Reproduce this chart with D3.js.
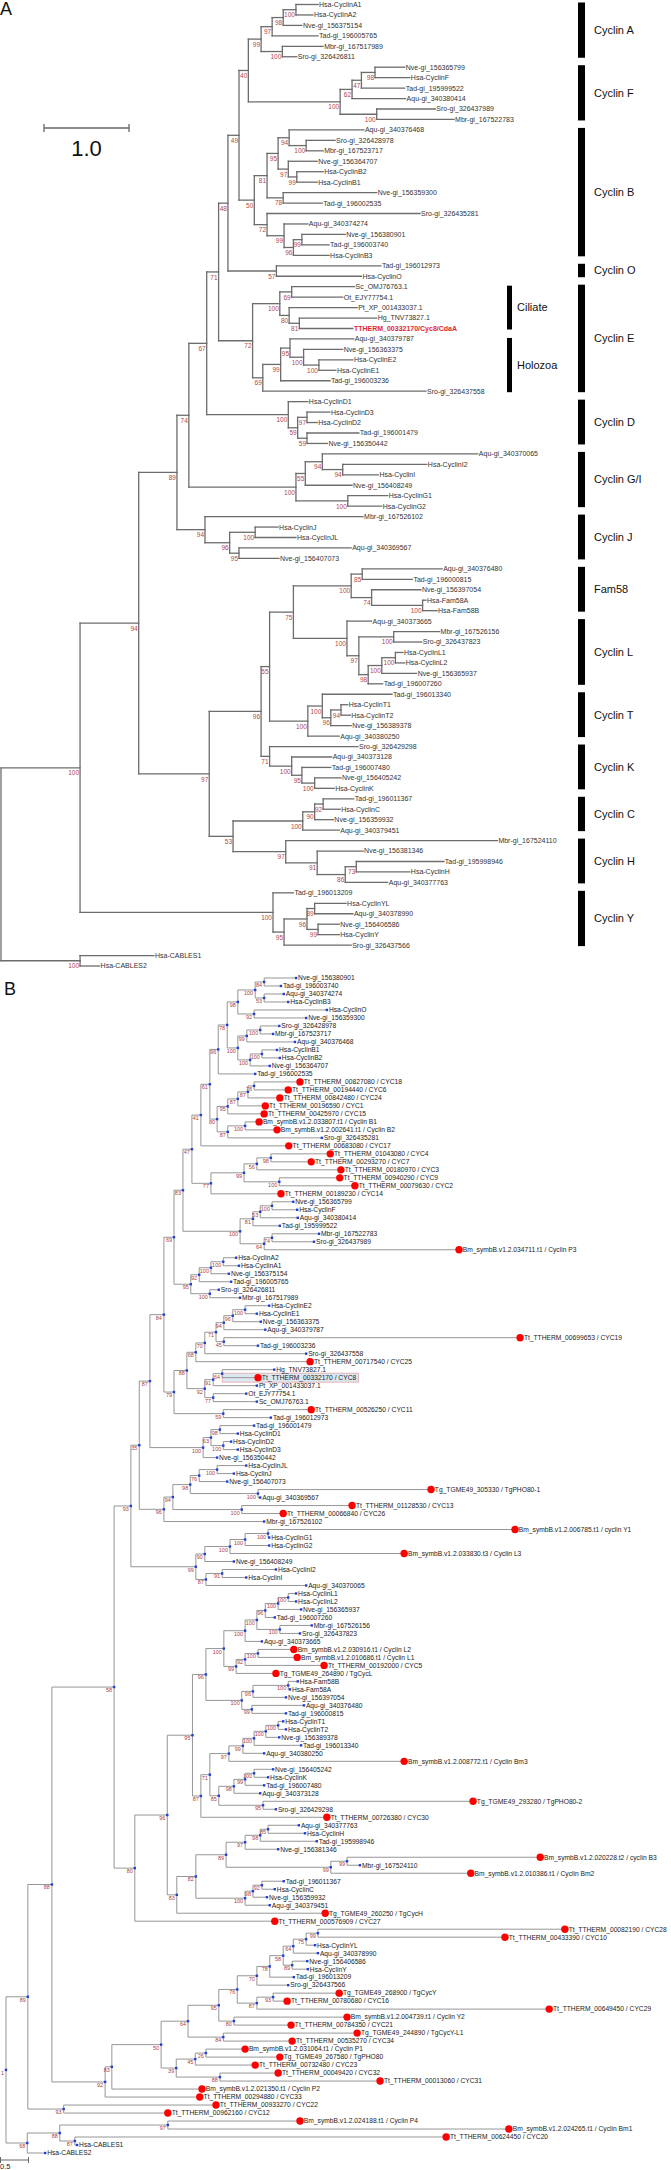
<!DOCTYPE html>
<html><head><meta charset="utf-8">
<script src="https://cdn.jsdelivr.net/npm/d3@7"></script>
<style>body{margin:0;background:#fff}svg{display:block}text{font-family:"Liberation Sans",Arial,sans-serif}</style>
</head><body><svg id="c" width="671" height="2170"></svg>
<script>
// ---------- DATA : panel A (Newick, value after ':' = distance from root, label after ')' = bootstrap) ----------
const aCyclinA = "((((Hsa-CyclinA1:3.73,Hsa-CyclinA2:3.67)100:3.47,Nve-gi_156375154:3.54)98:3.32,Tad-gi_196005765:3.73)97:3.19,(Mbr-gi_167517989:3.79,Sro-gi_326426811:3.48)100:3.31)99:3.06";
const aCyclinF = "((((Nve-gi_156365799:4.75,Hsa-CyclinF:4.81)98:4.40,Tad-gi_195999522:4.75)47:4.24,Aqu-gi_340380414:4.76)62:4.13,(Sro-gi_326437989:5.11,Mbr-gi_167522783:5.33)100:4.42)100:3.99";
const aCyclinB = "((((Aqu-gi_340376468:4.27,(Sro-gi_326428978:3.93,Mbr-gi_167523717:3.79)100:3.59)94:3.39,(Nve-gi_156364707:3.72,(Hsa-CyclinB2:3.79,Hsa-CyclinB1:3.72)99:3.48)97:3.38)95:3.26,(Nve-gi_156359300:4.42,Tad-gi_196002535:3.78)78:3.32)81:3.13,(Sro-gi_326435281:4.93,(Aqu-gi_340374274:3.61,((Nve-gi_156380901:4.05,Tad-gi_196003740:3.86)99:3.54,Hsa-CyclinB3:3.86)96:3.44)99:3.33)72:3.13)50:2.98";
const aCyclinO = "(Tad-gi_196012973:4.47,Hsa-CyclinO:4.24)57:3.24";
const aCiliate = "((Sc_OMJ76763.1:4.16,Ot_EJY77754.1:4.02)69:3.42,(Pt_XP_001433037.1:4.19,(Hg_TNV73827.1:4.42,TTHERM_00332170/Cyc8/CdaA:4.14)81:3.51)80:3.39)100:3.28";
const aHolozoa = "(((Aqu-gi_340379787:4.15,(Nve-gi_156363375:4.02,(Hsa-CyclinE2:4.14,Hsa-CyclinE1:3.94)100:3.74)100:3.56)95:3.40,Tad-gi_196003236:3.87)99:3.29,Sro-gi_326437558:5.00)69:3.08";
const aCyclinD = "(Hsa-CyclinD1:3.61,((Hsa-CyclinD3:3.87,Hsa-CyclinD2:3.72)97:3.60,(Tad-gi_196001479:4.21,Nve-gi_156350442:3.84)59:3.60)59:3.49)100:3.38";
const aCyclinGI = "(((Aqu-gi_340370065:5.61,(Hsa-CyclinI2:5.01,Hsa-CyclinI:4.44)94:4.02)94:3.78,Nve-gi_156408249:4.13)55:3.58,(Hsa-CyclinG1:4.55,Hsa-CyclinG2:4.48)100:4.08)100:3.47";
const aCyclinJ = "(Mbr-gi_167526102:4.26,((Hsa-CyclinJ:3.26,Hsa-CyclinJL:3.47)100:2.99,(Aqu-gi_340369567:4.12,Nve-gi_156407073:3.27)95:2.80)96:2.69)94:2.40";
const aFam58 = "((Aqu-gi_340376480:5.19,Tad-gi_196000815:4.84)85:4.25,(Nve-gi_156397054:4.94,(Hsa-Fam58A:5.00,Hsa-Fam58B:5.13)100:4.96)74:4.36)100:4.12";
const aCyclinL = "(Aqu-gi_340373665:4.36,((Mbr-gi_167526156:5.16,Sro-gi_326437823:4.95)100:4.62,(((Hsa-CyclinL1:4.73,Hsa-CyclinL2:4.75)100:4.64,Nve-gi_156365937:4.89)100:4.48,Tad-gi_196007260:4.49)98:4.32)97:4.21)100:4.07";
const aCyclinT = "((Tad-gi_196013340:4.60,((Hsa-CyclinT1:4.08,Hsa-CyclinT2:4.11)94:4.00,Nve-gi_156389378:4.12)96:3.88)100:3.78,Aqu-gi_340380250:3.98)100:3.61";
const aCyclinK = "(Sro-gi_326429298:4.20,(Aqu-gi_340373128:3.89,(Tad-gi_196007480:3.88,(Nve-gi_156405242:4.00,Hsa-CyclinK:3.92)100:3.69)95:3.54)100:3.42)71:3.16";
const aCyclinC = "(((Tad-gi_196011367:4.15,Hsa-CyclinC:3.99)92:3.79,Nve-gi_156359932:3.91)90:3.69,Aqu-gi_340379451:3.98)100:3.55";
const aCyclinH = "(Mbr-gi_167524110:5.84,(Nve-gi_156381346:4.26,((Tad-gi_195998946:5.21,Hsa-CyclinH:4.81)73:4.18,Aqu-gi_340377763:4.55)86:4.05)91:3.72)97:3.35";
const aCyclinY = "(Tad-gi_196013209:3.44,(((Hsa-CyclinYL:4.06,Aqu-gi_340378990:4.14)89:3.69,(Nve-gi_156406586:3.98,Hsa-CyclinY:3.98)99:3.73)96:3.60,Sro-gi_326437566:4.12)95:3.33)100:3.20";
const aCables = "(Hsa-CABLES1:1.80,Hsa-CABLES2:1.16)100:0.93";

const cladeNamesA = ["Cyclin A","Cyclin F","Cyclin B","Cyclin O","Cyclin E","Cyclin D","Cyclin G/I","Cyclin J","Fam58","Cyclin L","Cyclin T","Cyclin K","Cyclin C","Cyclin H","Cyclin Y"];
const cladeFirstA = ["Hsa-CyclinA1","Nve-gi_156365799","Aqu-gi_340376468","Tad-gi_196012973","Sc_OMJ76763.1","Hsa-CyclinD1","Aqu-gi_340370065","Mbr-gi_167526102","Aqu-gi_340376480","Aqu-gi_340373665","Tad-gi_196013340","Sro-gi_326429298","Tad-gi_196011367","Mbr-gi_167524110","Tad-gi_196013209"];
const cladeLastA = ["Sro-gi_326426811","Mbr-gi_167522783","Hsa-CyclinB3","Hsa-CyclinO","Sro-gi_326437558","Nve-gi_156350442","Hsa-CyclinG2","Nve-gi_156407073","Hsa-Fam58B","Tad-gi_196007260","Aqu-gi_340380250","Hsa-CyclinK","Aqu-gi_340379451","Aqu-gi_340377763","Sro-gi_326437566"];
const subNamesA = ["Ciliate","Holozoa"];
const subFirstA = ["Sc_OMJ76763.1","Aqu-gi_340379787"];
const subLastA = ["TTHERM_00332170/Cyc8/CdaA","Sro-gi_326437558"];
const highlightA = ["TTHERM_00332170/Cyc8/CdaA"];

// ---------- DATA : panel B ----------
const bCyclinB = "(((((Nve-gi_156380901:5.18,Tad-gi_196003740:4.91)84:4.61,(Aqu-gi_340374274:4.96,Hsa-CyclinB3:5.04)53:4.61)100:4.45,(Hsa-CyclinO:5.73,Nve-gi_156359300:5.36)92:4.43)98:4.14,(((Sro-gi_326428978:4.88,Mbr-gi_167523717:4.77)100:4.54,Aqu-gi_340376468:5.16)99:4.30,((Hsa-CyclinB1:4.84,Hsa-CyclinB2:4.89)100:4.57,Nve-gi_156364707:4.71)100:4.36)100:4.14)78:3.95,Tad-gi_196002535:4.45)96:3.79";
const bTtB = "((((Tt_TTHERM_00827080 / CYC18:5.25,Tt_TTHERM_00194440 / CYC6:5.04)78:4.43,Tt_TTHERM_00842480 / CYC24:4.89)87:4.32,Tt_TTHERM_00196590 / CYC1:4.63)87:4.14,Tt_TTHERM_00425970 / CYC15:4.61)95:3.96";
const bBmB = "((Bm_symbB.v1.2.033807.t1 / Cyclin B1:4.52,Bm_symbB.v1.2.002641.t1 / Cyclin B2:4.84)100:4.27,Sro-gi_326435281:5.64)87:3.96";
const bTtCyc = "((((Tt_TTHERM_01043080 / CYC4:5.79,Tt_TTHERM_00293270 / CYC7:5.45)98:4.73,Tt_TTHERM_00180970 / CYC3:5.98)56:4.48,(Tt_TTHERM_00940290 / CYC9:5.96,Tt_TTHERM_00079630 / CYC2:6.23)100:4.88)99:4.25,Tt_TTHERM_00189230 / CYC14:4.91)77:3.66";
const bCyclinF = "((((Nve-gi_156365799:5.13,Hsa-CyclinF:5.20)100:4.75,Aqu-gi_340380414:5.21)53:4.54,Tad-gi_195999522:4.89)81:4.41,((Mbr-gi_167522783:5.59,Sro-gi_326437989:5.50)74:4.75,Bm_symbB.v1.2.034711.t1 / Cyclin P3:8.09)64:4.61)100:4.18";
const bCyclinA = "((((Hsa-CyclinA2:4.11,Hsa-CyclinA1:4.16)100:3.88,Nve-gi_156375154:3.98)100:3.66,Tad-gi_196005765:4.02)92:3.45,(Sro-gi_326426811:3.80,Mbr-gi_167517989:4.18)100:3.64)95:3.30";
const bCyclinE = "((((((Hsa-CyclinE2:4.70,Hsa-CyclinE1:4.48)100:4.27,Nve-gi_156363375:4.55)96:4.05,Aqu-gi_340379787:4.63)94:3.89,(Tt_TTHERM_00699653 / CYC19:9.18,Tad-gi_196003236:4.50)45:3.89)71:3.75,Sro-gi_326437558:5.36)70:3.55,Tt_TTHERM_00717540 / CYC25:5.43)68:3.39";
const bCiliate = "(((Hg_TNV73827.1:4.79,Tt_TTHERM_00332170 / CYC8:4.50)64:3.86,Pt_XP_001433037.1:4.48)91:3.70,(Ot_EJY77754.1:4.29,Sc_OMJ76763.1:4.48)77:3.70)92:3.55";
const bCyc11 = "(Tt_TTHERM_00526250 / CYC11:5.45,Tad-gi_196012973:4.73)59:3.88";
const bCyclinD = "(((Tad-gi_196001479:4.43,Hsa-CyclinD1:4.14)98:3.82,(Hsa-CyclinD2:4.02,Hsa-CyclinD3:4.14)100:3.88)63:3.66,Nve-gi_156350442:3.77)100:3.52";
const bCyclinJ = "(((((Hsa-CyclinJL:4.29,Hsa-CyclinJ:4.07)100:3.77,Nve-gi_156407073:3.95)76:3.45,(Tg_TGME49_305330 / TgPHO80-1:7.59,Aqu-gi_340369567:4.54)100:4.50)98:3.29,(Tt_TTHERM_01128530 / CYC13:6.18,Tt_TTHERM_00066840 / CYC26:4.95)100:4.21)94:2.98,Mbr-gi_167526102:4.61)96:2.82";
const bCyclinGI = "(((((Bm_symbB.v1.2.006785.t1 / cyclin Y1:9.09,Hsa-CyclinG1:4.70)100:4.68,Hsa-CyclinG2:4.70)100:4.27,Bm_symbB.v1.2.033830.t3 / Cyclin L3:7.11)100:4.00,Nve-gi_156408249:4.07)90:3.55,((Hsa-CyclinI2:4.82,Hsa-CyclinI:4.29)91:3.86,Aqu-gi_340370065:5.36)87:3.57)99:3.39";
const bCyclinL = "((((((Hsa-CyclinL1:5.18,Hsa-CyclinL2:5.18)100:5.04,Nve-gi_156365937:5.27)100:4.86,Tad-gi_196007260:4.80)96:4.63,(Mbr-gi_167526156:5.46,Sro-gi_326437823:5.25)100:4.89)100:4.48,Aqu-gi_340373665:4.57)100:4.27,(((Bm_symbB.v1.2.030916.t1 / Cyclin L2:5.14,Bm_symbB.v1.2.010686.t1 / Cyclin L1:5.20)100:4.50,Tt_TTHERM_00192000 / CYC5:5.68)92:4.27,Tg_TGME49_264890 / TgCycL:4.82)99:4.11)100:3.89";
const bFam58 = "(((Hsa-Fam58B:5.21,Hsa-Fam58A:5.07)100:5.04,Nve-gi_156397054:5.00)96:4.41,(Aqu-gi_340376480:5.32,Tad-gi_196000815:5.00)99:4.39)100:4.21";
const bCyclinT = "(((((Hsa-CyclinT1:4.95,Hsa-CyclinT2:5.00)100:4.86,Nve-gi_156389378:4.88)100:4.64,Tad-gi_196013340:5.27)100:4.43,Aqu-gi_340380250:4.61)99:4.23,Bm_symbB.v1.2.008772.t1 / Cyclin Bm3:7.11)97:3.98";
const bCyclinK = "((((Nve-gi_156405242:4.77,Hsa-CyclinK:4.68)100:4.43,Tad-gi_196007480:4.61)99:4.27,Aqu-gi_340373128:4.54)98:4.07,(Tg_TGME49_293280 / TgPHO80-2:8.34,Sro-gi_326429298:4.82)95:4.59)85:3.80";
const bCyclinH = "((((Aqu-gi_340377763:5.23,Hsa-CyclinH:5.34)85:4.68,Tad-gi_195998946:5.55)98:4.54,Nve-gi_156381346:4.86)97:4.27,((Bm_symbB.v1.2.020228.t2 / cyclin B3:9.54,Mbr-gi_167524110:6.32)99:6.09,Bm_symbB.v1.2.010386.t1 / Cyclin Bm2:8.30)99:5.80)89:3.93";
const bCyclinC = "(((Tad-gi_196011367:4.96,Hsa-CyclinC:4.80)92:4.57,Nve-gi_156359932:4.66)98:4.41,Aqu-gi_340379451:4.71)100:4.27";
const bCyclinY = "(((((((Tt_TTHERM_00082190 / CYC28:9.98,Tt_TTHERM_00433390 / CYC10:8.91)99:5.57,Hsa-CyclinYL:5.52)75:5.36,Aqu-gi_340378990:5.57)64:5.13,(Nve-gi_156406586:5.38,Hsa-CyclinY:5.39)89:5.11)58:4.95,Tad-gi_196013209:5.14)78:4.71,Sro-gi_326437566:5.04)70:4.48,((Tg_TGME49_268900 / TgCycY:5.95,Tt_TTHERM_00780680 / CYC16:5.02)93:4.77,Tt_TTHERM_00649450 / CYC29:9.70)87:4.48)76:4.13";
const bCyclinY2 = "(Bm_symbB.v1.2.004739.t1 / Cyclin Y2:6.09,Tt_TTHERM_00784350 / CYC21:5.09)80:4.07";
const bCycYL = "(Tg_TGME49_244890 / TgCycY-L1:6.27,Tt_TTHERM_00535270 / CYC34:5.11)84:3.88";
const bCyclinP = "(((Bm_symbB.v1.2.031064.t1 / Cyclin P1:4.27,Tg_TGME49_267580 / TgPHO80:4.89)26:3.57,Tt_TTHERM_00732480 / CYC23:4.45)45:3.38,(Tt_TTHERM_00049420 / CYC32:4.86,Tt_TTHERM_00013060 / CYC31:6.68)88:3.82)39:3.04";
const bCyc22 = "(Tt_TTHERM_00933270 / CYC22:3.75,Tt_TTHERM_00962160 / CYC12:2.89)93:1.03";
const bCables = "(((Bm_symbB.v1.2.024188.t1 / Cyclin P4:5.25,Bm_symbB.v1.2.024265.t1 / Cyclin Bm1:8.98)97:2.89,(Tt_TTHERM_00624450 / CYC20:7.86,Hsa-CABLES1:1.27)87:1.23)88:0.96,Hsa-CABLES2:0.70)68:0.38";
const redPrefixesB = ["Tt_","Tg_","Bm_"];
const highlightB = ["Tt_TTHERM_00332170 / CYC8"];

// ---------- assemble backbones ----------
const J = (parts, lab, d) => "(" + parts.join(",") + ")" + lab + ":" + d;
const aN97 = J([J([J([J([aFam58, aCyclinL],"75",3.44), aCyclinT],"55",3.16), aCyclinK],"96",3.06), J([aCyclinC, aCyclinH],"53",2.73)],"97",2.45);
const aN40 = J([aCyclinA, aCyclinF],"40",2.91);
const aN48 = J([J([aN40, aCyclinB],"49",2.80), aCyclinO],"48",2.67);
const aN71 = J([aN48, J([aCiliate, aHolozoa],"72",2.96)],"71",2.56);
const aN89 = J([J([J([aN71, aCyclinD],"67",2.42), aCyclinGI],"74",2.21), aCyclinJ],"89",2.07);
const treeA = J([J([J([aN89, aN97],"94",1.62), aCyclinY],"100",0.93), aCables],"",0);

const bN61 = J([bCyclinB, J([bTtB, bBmB],"80",3.77)],"61",3.64);
const bTop = J([J([J([bN61, "Tt_TTHERM_00683080 / CYC17:5.05"],"41",3.48), bTtCyc],"47",3.32), bCyclinF],"83",3.16);
const bN79 = J([J([bCyclinE, bCiliate],"88",3.23), bCyc11],"79",3.00);
const bN84 = J([J([bTop, bCyclinA],"69",3.00), bN79],"84",2.82);
const bNodeX = J([J([J([bN84, bCyclinD],"87",2.57), bCyclinJ],"35",2.38), bCyclinGI],"93",2.23);
const bN95 = J([J([bCyclinL, bFam58],"96",3.57), J([J([bCyclinT, bCyclinK],"71",3.64), "Tt_TTHERM_00726380 / CYC30:5.73"],"87",3.48)],"95",3.33);
const bN83 = J([J([bCyclinH, bCyclinC],"82",3.39), "Tg_TGME49_260250 / TgCycH:5.70"],"83",3.05);
const bMid = J([J([bN95, bN83],"96",2.88), "Tt_TTHERM_000576909 / CYC27:4.80"],"80",2.30);
const bN50 = J([J([J([bCyclinY, bCyclinY2],"95",3.80), bCycYL],"64",3.25), bCyclinP],"50",2.77);
const bLow = J([J([bN50, "Bm_symbB.v1.2.021350.t1 / Cyclin P2:3.50"],"83",1.89), "Tt_TTHERM_00294880 / CYC33:3.46"],"92",1.77);
const treeB = J([J([J([J([bNodeX, bMid],"58",1.93), bLow],"88",0.82), bCyc22],"89",0.39), bCables],"1",0);

// ---------- parser & layout ----------
function parseNewick(s){
  let i=0;
  function node(){
    const n={children:[]};
    if(s[i]==='('){ i++; n.children.push(node()); while(s[i]===','){i++; n.children.push(node());} i++; }
    let name=''; while(i<s.length && !':,();'.includes(s[i])) name+=s[i++];
    n.name=name.trim();
    if(s[i]===':'){ i++; let num=''; while(i<s.length && !',();'.includes(s[i])) num+=s[i++]; n.depth=+num; } else n.depth=0;
    return n;
  }
  return node();
}
function layout(root, xs, ys){
  let k=0; const nodes=[], leaves=[];
  (function rec(n,p){
    n.parent=p; nodes.push(n);
    if(!n.children.length){ n.i=k++; n.y=ys(n.i); leaves.push(n); }
    else { n.children.forEach(c=>rec(c,n)); n.y=(n.children[0].y+n.children[n.children.length-1].y)/2; }
    n.x=xs(n.depth);
  })(root,null);
  return {nodes,leaves};
}
function branchLines(L){
  const out=[];
  L.nodes.forEach(n=>{
    if(n.children.length) out.push([n.x,n.children[0].y,n.x,n.children[n.children.length-1].y]);
    if(n.parent) out.push([n.parent.x,n.y,n.x,n.y]);
  });
  return out;
}

const svg=d3.select("#c");
svg.append("rect").attr("width",671).attr("height",2170).attr("fill","#fff");

// ================= PANEL A =================
const rootA=parseNewick(treeA);
const xA=d3.scaleLinear().domain([0,1]).range([1,86]);
const yA=d3.scaleLinear().domain([0,92]).range([4.5,966]);
const LA=layout(rootA,xA,yA);
const gA=svg.append("g");
gA.selectAll("line.br").data(branchLines(LA)).join("line").attr("class","br")
  .attr("x1",d=>d[0]).attr("y1",d=>d[1]).attr("x2",d=>d[2]).attr("y2",d=>d[3])
  .attr("stroke","#6c6c6c").attr("stroke-width",1.3).attr("stroke-linecap","square");
gA.selectAll("text.bs").data(LA.nodes.filter(n=>n.children.length&&n.name&&n.parent)).join("text").attr("class","bs")
  .attr("x",d=>d.x-1).attr("y",d=>d.y+7.6).attr("text-anchor","end").attr("font-size",6.5).attr("fill","#b0484a").text(d=>d.name);
gA.selectAll("text.lf").data(LA.leaves).join("text").attr("class","lf")
  .attr("x",d=>d.x+1).attr("y",d=>d.y).attr("dy","0.35em").attr("font-size",7)
  .attr("fill",d=>highlightA.includes(d.name)?"#e3262b":"#333")
  .attr("font-weight",d=>highlightA.includes(d.name)?"bold":null).text(d=>d.name);
const leafA=new Map(LA.leaves.map(l=>[l.name,l]));
cladeNamesA.forEach((nm,i)=>{
  const y1=Math.max(0,leafA.get(cladeFirstA[i]).y-2), y2=leafA.get(cladeLastA[i]).y+1;
  gA.append("rect").attr("x",578).attr("y",y1).attr("width",7).attr("height",y2-y1).attr("fill","#000");
  gA.append("text").attr("x",594).attr("y",(y1+y2)/2).attr("dy","0.35em").attr("font-size",11).attr("fill","#111").text(nm);
});
subNamesA.forEach((nm,i)=>{
  const y1=leafA.get(subFirstA[i]).y-1, y2=leafA.get(subLastA[i]).y+1;
  gA.append("rect").attr("x",507).attr("y",y1).attr("width",5).attr("height",y2-y1).attr("fill","#000");
  gA.append("text").attr("x",517).attr("y",(y1+y2)/2).attr("dy","0.35em").attr("font-size",11).attr("fill","#111").text(nm);
});
const sbA0=44, sbA1=44+(xA(1)-xA(0));
gA.append("line").attr("x1",sbA0).attr("x2",sbA1).attr("y1",128).attr("y2",128).attr("stroke","#666").attr("stroke-width",1.3);
[sbA0,sbA1].forEach(x=>gA.append("line").attr("x1",x).attr("x2",x).attr("y1",124).attr("y2",132).attr("stroke","#666").attr("stroke-width",1.3));
gA.append("text").attr("x",(sbA0+sbA1)/2).attr("y",156).attr("text-anchor","middle").attr("font-size",22).attr("fill","#111").text("1.0");
svg.append("text").attr("x",0).attr("y",15).attr("font-size",18).attr("fill","#111").text("A");

// ================= PANEL B =================
const rootB=parseNewick(treeB);
const xB=d3.scaleLinear().domain([0,1]).range([6,62]);
const yB=d3.scaleLinear().domain([0,147]).range([978,2153]);
const LB=layout(rootB,xB,yB);
const gB=svg.append("g");
const gHi=gB.append("g");
const isRed=n=>redPrefixesB.some(p=>n.name.startsWith(p));
gB.selectAll("line.br").data(branchLines(LB)).join("line").attr("class","br")
  .attr("x1",d=>d[0]).attr("y1",d=>d[1]).attr("x2",d=>d[2]).attr("y2",d=>d[3])
  .attr("stroke","#8a8a8a").attr("stroke-width",0.9);
gB.selectAll("rect.nd").data(LB.nodes.filter(n=>!(n.children.length===0&&isRed(n)))).join("rect").attr("class","nd")
  .attr("x",d=>d.x-1.2).attr("y",d=>d.y-1.2).attr("width",2.4).attr("height",2.4).attr("fill","#1f3fd6");
gB.selectAll("circle.rd").data(LB.leaves.filter(isRed)).join("circle").attr("class","rd")
  .attr("cx",d=>d.x).attr("cy",d=>d.y).attr("r",3.7).attr("fill","#ff0000");
gB.selectAll("text.bs").data(LB.nodes.filter(n=>n.children.length&&n.name)).join("text").attr("class","bs")
  .attr("x",d=>d.x-2).attr("y",d=>d.y+5).attr("text-anchor","end").attr("font-size",5.5).attr("fill","#b04040").text(d=>d.name);
const lfB=gB.selectAll("text.lf").data(LB.leaves).join("text").attr("class","lf")
  .attr("x",d=>d.x+(isRed(d)?3.8:2)).attr("y",d=>d.y).attr("dy","0.35em").attr("font-size",6.7).attr("fill","#222").text(d=>d.name);
lfB.filter(d=>highlightB.includes(d.name)).each(function(d){
  const w=this.getComputedTextLength();
  gHi.append("rect").attr("x",d.parent.x).attr("y",d.y-4.5).attr("width",d.x+4+w+2-d.parent.x).attr("height",9)
    .attr("fill","#dbe8f1").attr("stroke","#e9a3a6").attr("stroke-width",0.8);
});
const sbB0=0.5, sbB1=0.5+(xB(0.5)-xB(0));
gB.append("line").attr("x1",sbB0).attr("x2",sbB1).attr("y1",2160).attr("y2",2160).attr("stroke","#666").attr("stroke-width",1);
[sbB0,sbB1].forEach(x=>gB.append("line").attr("x1",x).attr("x2",x).attr("y1",2157).attr("y2",2163).attr("stroke","#666").attr("stroke-width",1));
gB.append("text").attr("x",0).attr("y",2169).attr("font-size",7.5).attr("fill","#222").text("0.5");
svg.append("text").attr("x",4).attr("y",995).attr("font-size",18).attr("fill","#111").text("B");
</script></body></html>
